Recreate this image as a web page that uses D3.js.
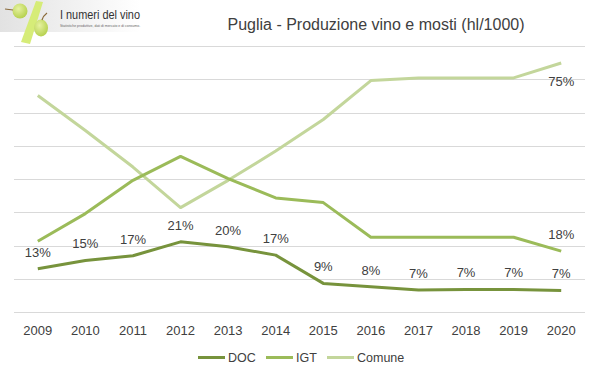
<!DOCTYPE html>
<html><head><meta charset="utf-8">
<script src="https://cdn.jsdelivr.net/npm/d3@7"></script>
<style>
body{margin:0;background:#fff;}
svg{display:block;font-family:"Liberation Sans",Arial,sans-serif;}
</style></head>
<body><svg id="c" width="599" height="378"></svg>
<script>
const years = ["2009","2010","2011","2012","2013","2014","2015","2016","2017","2018","2019","2020"];
const doc = [13.0, 15.5, 16.9, 21.1, 19.6, 17.1, 8.6, 7.6, 6.6, 6.8, 6.8, 6.5];
const igt = [21.3, 29.6, 39.6, 46.8, 40.1, 34.3, 32.9, 22.5, 22.5, 22.5, 22.5, 18.3];
const comune = [65.1, 54.6, 43.6, 31.4, 39.6, 48.4, 57.9, 69.6, 70.4, 70.4, 70.4, 74.9];
const docLabels = ["13%","15%","17%","21%","20%","17%","9%","8%","7%","7%","7%","7%"];
const igtLastLabel = "18%";
const comuneLastLabel = "75%";
const seriesNames = ["DOC","IGT","Comune"];
const yTicks = [0,10,20,30,40,50,60,70,80];

const svg = d3.select("#c");
const pL = 14, pR = 585, pT = 46, pB = 312;
const x = d3.scaleBand().domain(years).range([pL, pR]);
const y = d3.scaleLinear().domain([0, 80]).range([pB, pT]);
const cx = d => x(d) + x.bandwidth()/2;

// logo
const defs = svg.append("defs");
const g1 = defs.append("linearGradient").attr("id","lg").attr("x1","0").attr("x2","1");
g1.append("stop").attr("offset","0").attr("stop-color","#e2e2e2");
g1.append("stop").attr("offset","1").attr("stop-color","#ffffff");
const g2 = defs.append("radialGradient").attr("id","gr").attr("cx","0.4").attr("cy","0.35").attr("r","0.7");
g2.append("stop").attr("offset","0").attr("stop-color","#e6f2a0");
g2.append("stop").attr("offset","1").attr("stop-color","#b3cf4a");
svg.append("rect").attr("x",0).attr("y",0).attr("width",140).attr("height",32).attr("fill","url(#lg)");
svg.append("path").attr("d","M21 42 L30 44 L43 2 L36 1 Z").attr("fill","#d6ec78");
svg.append("ellipse").attr("cx",20).attr("cy",11).attr("rx",7.5).attr("ry",7.5).attr("fill","url(#gr)");
svg.append("path").attr("d","M5 9 L13 10").attr("stroke","#8a6a3a").attr("stroke-width",1.2);
svg.append("ellipse").attr("cx",41).attr("cy",28).attr("rx",7).attr("ry",8.5).attr("fill","url(#gr)");
svg.append("path").attr("d","M42 20 Q43 16 47 13").attr("stroke","#8a6a3a").attr("stroke-width",1.2).attr("fill","none");
svg.append("text").attr("x",60).attr("y",19).attr("font-size",13).attr("fill","#333")
  .attr("textLength",80).attr("lengthAdjust","spacingAndGlyphs").text("I numeri del vino");
svg.append("text").attr("x",60).attr("y",27).attr("font-size",3.5).attr("fill","#666")
  .text("Statistiche produttive, dati di mercato e di consumo.");

// title
svg.append("text").attr("x",376).attr("y",30).attr("text-anchor","middle").attr("font-size",16)
  .attr("fill","#404040").text("Puglia - Produzione vino e mosti (hl/1000)");

// gridlines
svg.append("g").selectAll("line").data(yTicks).join("line")
  .attr("x1",pL).attr("x2",pR).attr("y1",d=>Math.round(y(d))+0.5).attr("y2",d=>Math.round(y(d))+0.5)
  .attr("stroke","#d9d9d9").attr("stroke-width",1);

// x axis labels
svg.append("g").selectAll("text").data(years).join("text")
  .attr("x",d=>cx(d)).attr("y",335).attr("text-anchor","middle").attr("font-size",13).attr("fill","#404040")
  .text(d=>d);

const colors = {DOC:"#77933c", IGT:"#9bbb59", Comune:"#c3d69b"};
const data = {DOC:doc, IGT:igt, Comune:comune};
const line = d3.line().x((d,i)=>cx(years[i])).y(d=>y(d));
["Comune","IGT","DOC"].forEach(k=>{
  svg.append("path").datum(data[k]).attr("d",line).attr("fill","none")
    .attr("stroke",colors[k]).attr("stroke-width",3).attr("stroke-linejoin","round");
});

// labels
svg.append("g").selectAll("text").data(doc).join("text")
  .attr("x",(d,i)=>cx(years[i])).attr("y",d=>y(d)-12).attr("text-anchor","middle")
  .attr("font-size",13).attr("fill","#404040").text((d,i)=>docLabels[i]);
svg.append("text").attr("x",cx("2020")).attr("y",y(igt[11])-12).attr("text-anchor","middle")
  .attr("font-size",13).attr("fill","#404040").text(igtLastLabel);
svg.append("text").attr("x",cx("2020")).attr("y",y(comune[11])+23).attr("text-anchor","middle")
  .attr("font-size",13).attr("fill","#404040").text(comuneLastLabel);

// legend
const legX = [198, 266, 327];
seriesNames.forEach((k,i)=>{
  svg.append("line").attr("x1",legX[i]).attr("x2",legX[i]+27).attr("y1",357.5).attr("y2",357.5)
    .attr("stroke",colors[k]).attr("stroke-width",3);
  svg.append("text").attr("x",legX[i]+30).attr("y",362).attr("font-size",12.5).attr("fill","#404040").text(k);
});
</script></body></html>
